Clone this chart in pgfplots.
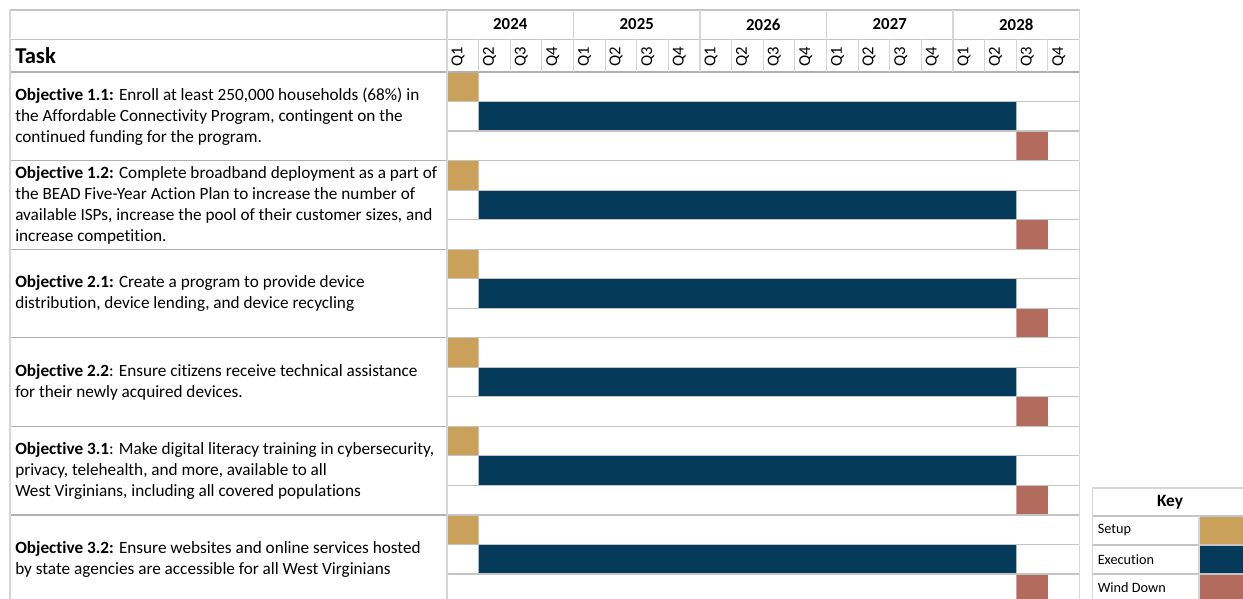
\documentclass[border=0pt]{standalone}
\usepackage{pgfplots}
\pgfplotsset{compat=1.18}
\usepackage{pgfplotstable}
\usepackage{fontspec}
\setmainfont{Carlito}[Ligatures={NoCommon,NoRequired,NoContextual}]
\definecolor{setupc}{RGB}{201,161,91}
\definecolor{execc}{RGB}{5,58,91}
\definecolor{windc}{RGB}{179,107,94}
\definecolor{hline}{RGB}{196,196,196}
\definecolor{vline}{RGB}{214,214,214}

% row = centre of the sub-row (0 = first sub-row), values in quarters (0 = Q1 2024)
\pgfplotstableread{
row  offset setup exec wind
0.5  0 1 0 0
1.5  1 0 17 0
2.5  18 0 0 1
3.5  0 1 0 0
4.5  1 0 17 0
5.5  18 0 0 1
6.5  0 1 0 0
7.5  1 0 17 0
8.5  18 0 0 1
9.5  0 1 0 0
10.5 1 0 17 0
11.5 18 0 0 1
12.5 0 1 0 0
13.5 1 0 17 0
14.5 18 0 0 1
15.5 0 1 0 0
16.5 1 0 17 0
17.5 18 0 0 1
}\ganttdata

\begin{document}
\begin{tikzpicture}
\useasboundingbox (0,0) rectangle (932.25pt,-449.25pt);
\begin{axis}[
  at={(335.25pt,-54pt)}, anchor=north west,
  scale only axis, width=474.4pt, height=395.25pt,
  xmin=0, xmax=20, ymin=0, ymax=17.864, y dir=reverse,
  axis lines=none, ticks=none,
  xbar stacked, bar width=1,
]
\addplot[draw=none, fill=white, fill opacity=0] table[x=offset, y=row] {\ganttdata};
\addplot[draw=none, fill=setupc] table[x=setup, y=row] {\ganttdata};
\addplot[draw=none, fill=execc] table[x=exec, y=row] {\ganttdata};
\addplot[draw=none, fill=windc] table[x=wind, y=row] {\ganttdata};
\end{axis}

\begin{scope}[x=0.75pt,y=-0.75pt]
% ---- grid lines ----
\foreach \k in {1,...,17} {
  \draw[hline, line width=0.9pt] (447,{72+29.53*\k}) -- (1079.5,{72+29.53*\k});
}
\foreach \k in {1,...,5} {
  \draw[hline!90!black, line width=0.9pt] (10,{72+88.59*\k}) -- (447,{72+88.59*\k});
}
\draw[hline, line width=0.9pt] (10,10) -- (1079.5,10);
\draw[hline, line width=0.9pt] (10,39.5) -- (1079.5,39.5);
\draw[hline!90!black, line width=0.9pt] (10,72) -- (1079.5,72);
\draw[vline, line width=0.9pt] (10,10) -- (10,599);
\draw[vline, line width=0.9pt] (447,10) -- (447,599);
\draw[vline, line width=0.9pt] (1079.5,10) -- (1079.5,599);
\foreach \q in {1,...,19} {
  \draw[vline, line width=0.9pt] ({447+31.625*\q},39.5) -- ({447+31.625*\q},72);
}
\foreach \y in {1,...,4} {
  \draw[vline, line width=0.9pt] ({447+126.5*\y},10) -- ({447+126.5*\y},72);
}

% ---- header text ----
\node[anchor=west, inner sep=0pt, font=\fontsize{17}{20}\selectfont\bfseries] at (15,56) {Task};
\foreach \yr [count=\i from 0] in {2024,2025,2026,2027,2028} {
  \node[font=\fontsize{12.6}{15}\selectfont\bfseries] at ({447+126.5*\i+63.25},24.5) {\yr};
  \foreach \q [count=\j from 0] in {Q1,Q2,Q3,Q4} {
    \node[rotate=90, inner sep=0pt, font=\fontsize{12.5}{14}\selectfont] at ({447+126.5*\i+31.625*\j+11},56.5) {\q};
  }
}

% ---- task text ----
\tikzset{task/.style={anchor=west, inner sep=0pt, align=left, font=\fontsize{12.9}{15.75}\selectfont}}
\node[task] at (15,116.3) {\textbf{Objective 1.1:} Enroll at least 250,000 households (68\%) in\\the Affordable Connectivity Program, contingent on the\\continued funding for the program.};
\node[task] at (15,204.9) {\textbf{Objective 1.2:} Complete broadband deployment as a part of\\the BEAD Five-Year Action Plan to increase the number of\\available ISPs, increase the pool of their customer sizes, and\\increase competition.};
\node[task] at (15,293.5) {\textbf{Objective 2.1:} Create a program to provide device\\distribution, device lending, and device recycling};
\node[task] at (15,382.1) {\textbf{Objective 2.2}: Ensure citizens receive technical assistance\\for their newly acquired devices.};
\node[task] at (15,470.7) {\textbf{Objective 3.1}: Make digital literacy training in cybersecurity,\\privacy, telehealth, and more, available to all\\West Virginians, including all covered populations};
\node[task] at (15,559.3) {\textbf{Objective 3.2:} Ensure websites and online services hosted\\by state agencies are accessible for all West Virginians};

% ---- key ----
\fill[setupc] (1199,516) rectangle (1248,545);
\fill[execc] (1199,545) rectangle (1248,574);
\fill[windc] (1199,574) rectangle (1248,603);
\draw[vline, line width=0.9pt] (1092.5,488) rectangle (1248,603);
\draw[hline, line width=0.9pt] (1092.5,516) -- (1248,516);
\draw[hline, line width=0.9pt] (1092.5,545) -- (1248,545);
\draw[hline, line width=0.9pt] (1092.5,574) -- (1248,574);
\draw[vline, line width=0.9pt] (1199,516) -- (1199,603);
\node[font=\fontsize{13}{15}\selectfont\bfseries] at (1170,502) {Key};
\node[anchor=west, inner sep=0pt, font=\fontsize{10.7}{13}\selectfont] at (1097.5,530.5) {Setup};
\node[anchor=west, inner sep=0pt, font=\fontsize{10.7}{13}\selectfont] at (1097.5,559.5) {Execution};
\node[anchor=west, inner sep=0pt, font=\fontsize{10.7}{13}\selectfont] at (1097.5,588) {Wind Down};
\end{scope}
\end{tikzpicture}
\end{document}
